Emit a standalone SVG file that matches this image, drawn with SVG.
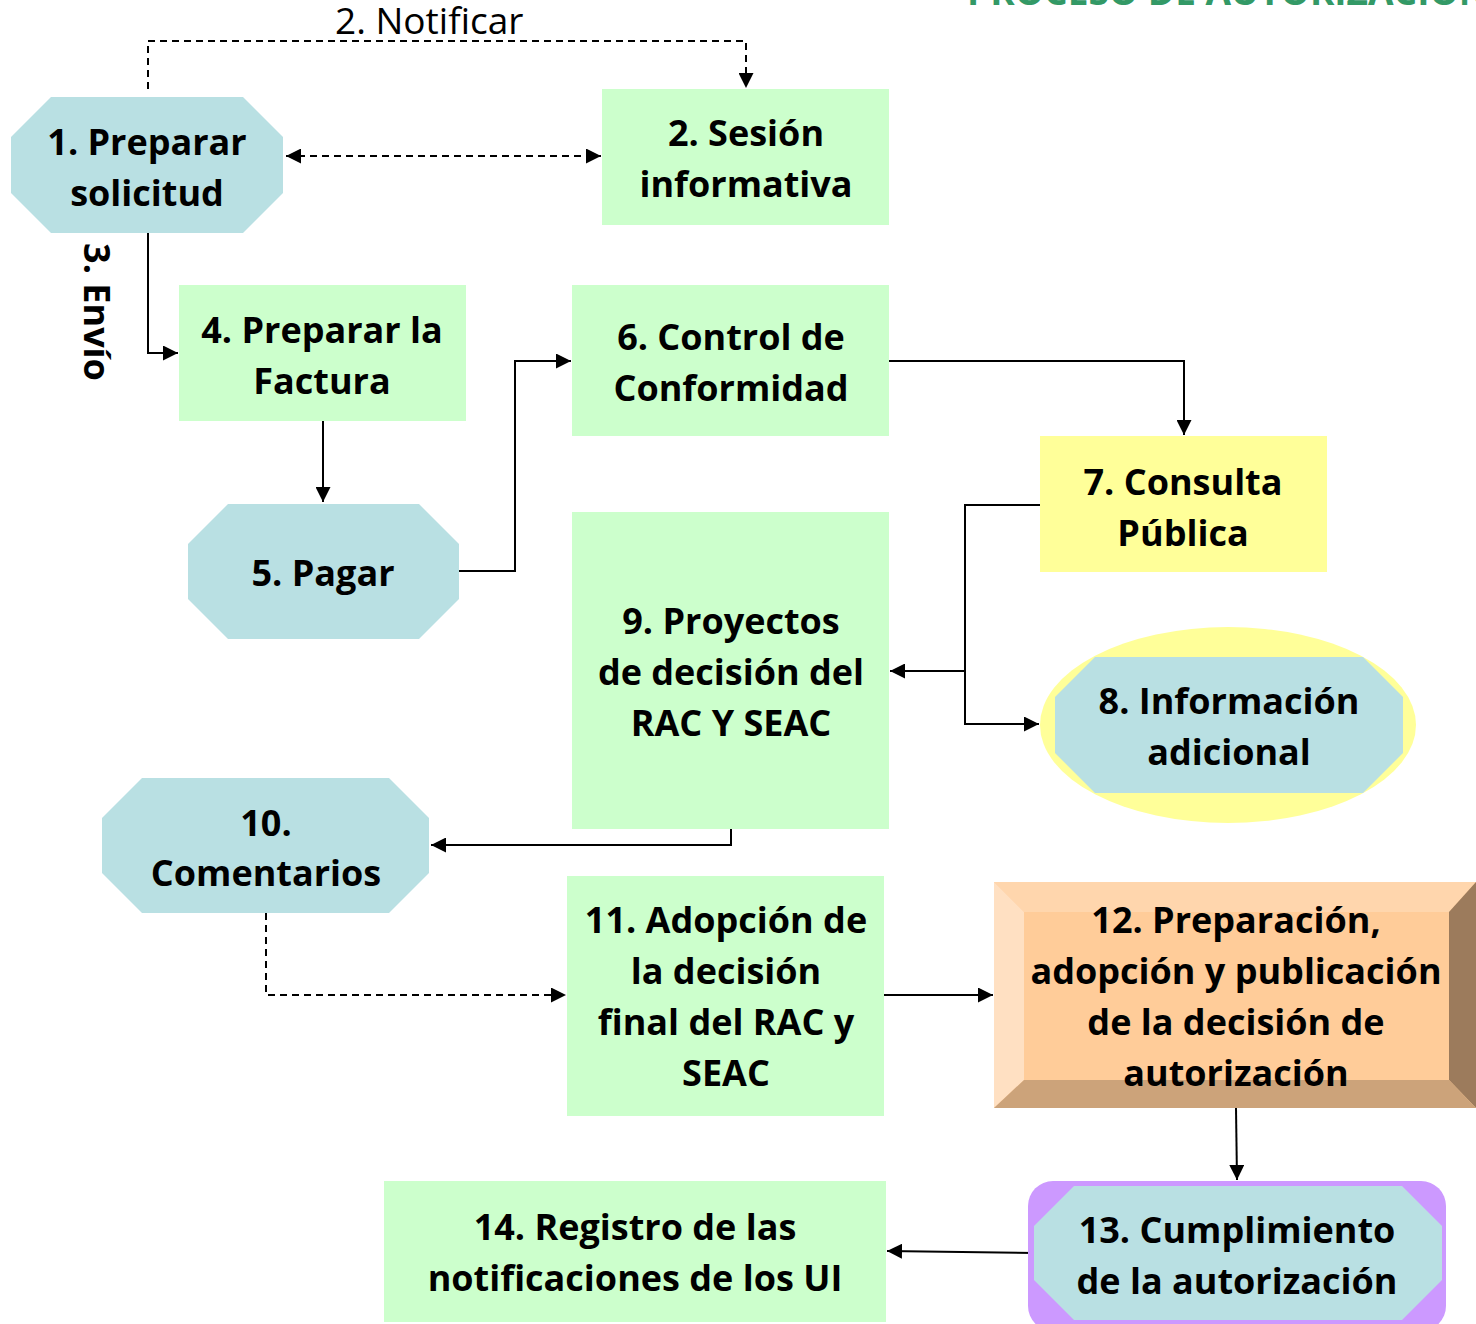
<svg xmlns="http://www.w3.org/2000/svg" width="1476" height="1324" viewBox="0 0 1476 1324">
<style>
.t{font-family:"Open Sans","Liberation Sans",sans-serif;font-weight:700;font-size:36px;fill:#000;text-anchor:middle}
.n{font-family:"Open Sans","Liberation Sans",sans-serif;font-weight:400;font-size:37px;fill:#000}
.green{fill:#ccffcc}
.blue{fill:#b9e0e3}
.yellow{fill:#ffff99}
.ln{fill:none;stroke:#000;stroke-width:2}
.dash{stroke-dasharray:7 5}
</style>
<defs>
<marker id="ah" viewBox="0 0 10 10" refX="10" refY="5" markerWidth="15" markerHeight="15" markerUnits="userSpaceOnUse" orient="auto-start-reverse">
<path d="M0,0L10,5L0,10z" fill="#000"/>
</marker>
</defs>
<rect width="1476" height="1324" fill="#fff"/>
<text x="967" y="5" font-family="Open Sans, Liberation Sans, sans-serif" font-weight="700" font-size="37" fill="#339966">PROCESO DE AUTORIZACIÓN</text>

<g id="connectors">
<path class="ln dash" d="M148,89V41H746V88" marker-end="url(#ah)"/>
<path class="ln dash" d="M286,156H601" marker-start="url(#ah)" marker-end="url(#ah)"/>
<path class="ln" d="M148,233V353H178" marker-end="url(#ah)"/>
<path class="ln" d="M323,421L323,502" marker-end="url(#ah)"/>
<path class="ln" d="M459,571H515V361H571" marker-end="url(#ah)"/>
<path class="ln" d="M889,361H1184V435" marker-end="url(#ah)"/>
<path class="ln" d="M1040,505H965V671H890" marker-end="url(#ah)"/>
<path class="ln" d="M965,671V724H1039" marker-end="url(#ah)"/>
<path class="ln" d="M731,829V845H431" marker-end="url(#ah)"/>
<path class="ln dash" d="M266,913V995H566" marker-end="url(#ah)"/>
<path class="ln" d="M884,995H993" marker-end="url(#ah)"/>
<path class="ln" d="M1236,1108L1237,1180" marker-end="url(#ah)"/>
<path class="ln" d="M1034,1253L887,1251" marker-end="url(#ah)"/>
<text class="n" x="335" y="34">2. Notificar</text>
<text class="t" transform="translate(84,312) rotate(90)" style="text-anchor:middle">3. Envío</text>
</g>

<g id="n1">
<polygon class="blue" points="51,97 243,97 283,137 283,193 243,233 51,233 11,193 11,137"/>
<text class="t" x="147" y="155">1. Preparar</text>
<text class="t" x="147" y="206">solicitud</text>
</g>
<g id="n2">
<rect class="green" x="602" y="89" width="287" height="136"/>
<text class="t" x="746" y="146">2. Sesión</text>
<text class="t" x="746" y="197">informativa</text>
</g>
<g id="n4">
<rect class="green" x="179" y="285" width="287" height="136"/>
<text class="t" x="322" y="343">4. Preparar la</text>
<text class="t" x="322" y="394">Factura</text>
</g>
<g id="n5">
<polygon class="blue" points="228,504 419,504 459,544 459,599 419,639 228,639 188,599 188,544"/>
<text class="t" x="323" y="586">5. Pagar</text>
</g>
<g id="n6">
<rect class="green" x="572" y="285" width="317" height="151"/>
<text class="t" x="731" y="350">6. Control de</text>
<text class="t" x="731" y="401">Conformidad</text>
</g>
<g id="n7">
<rect class="yellow" x="1040" y="436" width="287" height="136"/>
<text class="t" x="1183" y="495">7. Consulta</text>
<text class="t" x="1183" y="546">Pública</text>
</g>
<g id="n8">
<ellipse class="yellow" cx="1228" cy="725" rx="188" ry="98"/>
<polygon class="blue" points="1095,657 1363,657 1403,697 1403,753 1363,793 1095,793 1055,753 1055,697"/>
<text class="t" x="1229" y="714">8. Información</text>
<text class="t" x="1229" y="765">adicional</text>
</g>
<g id="n9">
<rect class="green" x="572" y="512" width="317" height="317"/>
<text class="t" x="731" y="634">9. Proyectos</text>
<text class="t" x="731" y="685">de decisión del</text>
<text class="t" x="731" y="736">RAC Y SEAC</text>
</g>
<g id="n10">
<polygon class="blue" points="142,778 389,778 429,818 429,873 389,913 142,913 102,873 102,818"/>
<text class="t" x="266" y="836">10.</text>
<text class="t" x="266" y="886">Comentarios</text>
</g>
<g id="n11">
<rect class="green" x="567" y="876" width="317" height="240"/>
<text class="t" x="726" y="933">11. Adopción de</text>
<text class="t" x="726" y="984">la decisión</text>
<text class="t" x="726" y="1035">final del RAC y</text>
<text class="t" x="726" y="1086">SEAC</text>
</g>
<g id="n12">
<rect x="994" y="882" width="482" height="226" fill="#ffcc99"/>
<polygon points="994,882 1476,882 1449,912 1024,912" fill="#ffd6ad"/>
<polygon points="994,882 1024,912 1024,1080 994,1108" fill="#ffe0c2"/>
<polygon points="1476,882 1476,1108 1449,1080 1449,912" fill="#9c7b5c"/>
<polygon points="994,1108 1024,1080 1449,1080 1476,1108" fill="#cca37a"/>
<text class="t" x="1236" y="933">12. Preparación,</text>
<text class="t" x="1236" y="984">adopción y publicación</text>
<text class="t" x="1236" y="1035">de la decisión de</text>
<text class="t" x="1236" y="1086">autorización</text>
</g>
<g id="n13">
<rect x="1028" y="1181" width="418" height="150" rx="25" fill="#cc99ff"/>
<polygon class="blue" points="1074,1186 1402,1186 1442,1226 1442,1280 1402,1320 1074,1320 1034,1280 1034,1226"/>
<text class="t" x="1237" y="1243">13. Cumplimiento</text>
<text class="t" x="1237" y="1294">de la autorización</text>
</g>
<g id="n14">
<rect class="green" x="384" y="1181" width="502" height="141"/>
<text class="t" x="635" y="1240">14. Registro de las</text>
<text class="t" x="635" y="1291">notificaciones de los UI</text>
</g>
</svg>
